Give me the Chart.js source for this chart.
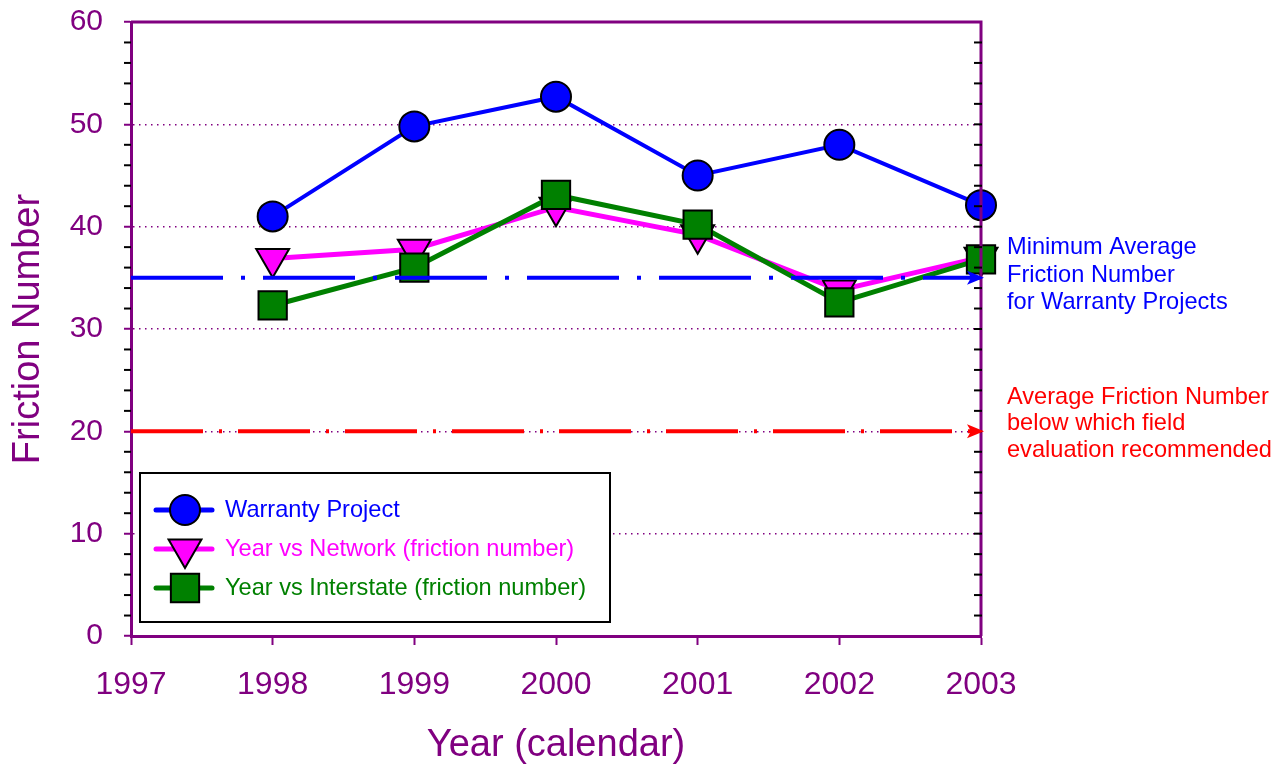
<!DOCTYPE html>
<html>
<head>
<meta charset="utf-8">
<script src="https://cdn.jsdelivr.net/npm/chart.js@4"></script>
<style>
  body { margin: 0; background: #fff; }
  canvas { display: block; }
</style>
</head>
<body>
<canvas id="myChart" width="1282" height="765"></canvas>
<script>
  'use strict'

  // Data
  const years = [1998, 1999, 2000, 2001, 2002, 2003];
  const warranty = [41.0, 49.8, 52.7, 45.0, 48.0, 42.1];
  const network = [36.9, 37.8, 41.9, 39.2, 33.8, 37.0];
  const interstate = [32.3, 36.0, 43.1, 40.2, 32.6, 36.8];
  const refYears = [1997, 2003];
  const minWarranty = [35, 35];
  const fieldEval = [20, 20];
  const xTicks = [1997, 1998, 1999, 2000, 2001, 2002, 2003];

  const purple = '#800080';
  const font = 'Liberation Sans, Arial, sans-serif';
  const noteFont = '23.6px ' + font;

  const pts = (xs, ys) => xs.map((x, i) => ({ x: x, y: ys[i] }));

  // arrows, frame, minor ticks, legend box and side notes
  const extras = {
    id: 'extras',
    afterDatasetsDraw(chart) {
      const c = chart.ctx;
      const a = chart.chartArea;
      const ys = chart.scales.y;

      // frame top and right
      c.save();
      c.strokeStyle = purple;
      c.lineWidth = 3;
      c.beginPath();
      c.moveTo(a.left, a.top);
      c.lineTo(a.right, a.top);
      c.lineTo(a.right, a.bottom);
      c.stroke();

      // minor ticks
      c.strokeStyle = '#000';
      c.lineWidth = 2;
      for (let v = 0; v <= 60; v += 2) {
        const py = ys.getPixelForValue(v);
        if (v % 10 !== 0) {
          c.beginPath();
          c.moveTo(a.left - 7, py);
          c.lineTo(a.left, py);
          c.stroke();
        }
        if (v > 0 && v < 60) {
          c.beginPath();
          c.moveTo(a.right - 7, py);
          c.lineTo(a.right + 1, py);
          c.stroke();
        }
      }

      // arrow heads on reference lines
      chart.data.datasets.forEach((ds, i) => {
        if (!ds.arrow) return;
        const meta = chart.getDatasetMeta(i);
        const p = meta.data[meta.data.length - 1];
        c.fillStyle = ds.borderColor;
        c.beginPath();
        c.moveTo(p.x + 3, p.y);
        c.lineTo(p.x - 14, p.y - 7);
        c.lineTo(p.x - 10, p.y);
        c.lineTo(p.x - 14, p.y + 7);
        c.closePath();
        c.fill();
      });

      // side notes
      c.font = noteFont;
      c.textBaseline = 'middle';
      c.textAlign = 'left';
      const tx = a.right + 26;
      const y35 = ys.getPixelForValue(35);
      c.fillStyle = '#0000ff';
      ['Minimum Average', 'Friction Number', 'for Warranty Projects'].forEach((t, i) => {
        c.fillText(t, tx, y35 - 30 + i * 27.5);
      });
      const y20 = ys.getPixelForValue(20);
      c.fillStyle = '#ff0000';
      ['Average Friction Number', 'below which field', 'evaluation recommended'].forEach((t, i) => {
        c.fillText(t, tx, y20 - 34 + i * 26.5);
      });

      // legend box
      const bx = a.left + 9, bw = 470, bh = 149, by = a.bottom - 14 - bh;
      c.fillStyle = '#fff';
      c.fillRect(bx, by, bw, bh);
      c.strokeStyle = '#000';
      c.lineWidth = 2;
      c.strokeRect(bx, by, bw, bh);
      chart.data.datasets.forEach((ds) => {
        if (ds.arrow) return;
        const ly = by + 37 + ds.legendRow * 39;
        c.strokeStyle = ds.borderColor;
        c.lineWidth = 5;
        c.lineCap = 'round';
        c.beginPath();
        c.moveTo(bx + 16, ly);
        c.lineTo(bx + 72, ly);
        c.stroke();
        c.lineCap = 'butt';
        c.fillStyle = ds.pointBackgroundColor;
        c.strokeStyle = '#000';
        c.lineWidth = 2;
        Chart.helpers.drawPoint(c, {
          pointStyle: ds.pointStyle,
          rotation: ds.pointRotation || 0,
          radius: ds.pointRadius,
          borderWidth: 2
        }, bx + 45, ly);
        c.fillStyle = ds.borderColor;
        c.font = noteFont;
        c.fillText(ds.label, bx + 85, ly);
      });
      c.restore();
    }
  };

  const ctx = document.getElementById('myChart');

  // eslint-disable-next-line no-unused-vars
  const myChart = new Chart(ctx, {
    type: 'line',
    data: {
      datasets: [{
        label: 'Minimum Average Friction Number',
        data: pts(refYears, minWarranty),
        borderColor: '#0000ff',
        borderWidth: 4,
        borderDash: [92, 18, 4, 18],
        pointRadius: 0,
        arrow: true,
        order: 0
      }, {
        label: 'Average Friction Number below which field evaluation recommended',
        data: pts(refYears, fieldEval),
        borderColor: '#ff0000',
        borderWidth: 4,
        borderDash: [72, 16, 3, 16],
        pointRadius: 0,
        arrow: true,
        order: 0
      }, {
        label: 'Warranty Project',
        data: pts(years, warranty),
        borderColor: '#0000ff',
        borderWidth: 4,
        pointStyle: 'circle',
        pointRadius: 15,
        pointBackgroundColor: '#0000ff',
        pointBorderColor: '#000',
        pointBorderWidth: 2,
        legendRow: 0,
        order: 1
      }, {
        label: 'Year vs Network (friction number)',
        data: pts(years, network),
        borderColor: '#ff00ff',
        borderWidth: 5,
        pointStyle: 'triangle',
        pointRotation: 180,
        pointRadius: 19,
        pointBackgroundColor: '#ff00ff',
        pointBorderColor: '#000',
        pointBorderWidth: 2,
        legendRow: 1,
        order: 3
      }, {
        label: 'Year vs Interstate (friction number)',
        data: pts(years, interstate),
        borderColor: '#008000',
        borderWidth: 5,
        pointStyle: 'rect',
        pointRadius: 20,
        pointBackgroundColor: '#008000',
        pointBorderColor: '#000',
        pointBorderWidth: 2,
        legendRow: 2,
        order: 2
      }]
    },
    options: {
      responsive: false,
      animation: false,
      lineTension: 0,
      clip: false,
      layout: {
        padding: { top: 22, right: 301, left: 0, bottom: 0 }
      },
      scales: {
        x: {
          type: 'linear',
          min: 1997,
          max: 2003,
          afterFit: (scale) => { scale.height = 129; },
          afterBuildTicks: (scale) => { scale.ticks = xTicks.map(v => ({ value: v })); },
          ticks: {
            color: purple,
            font: { family: font, size: 32 },
            padding: 21,
            maxRotation: 0,
            callback: (v) => String(v)
          },
          grid: {
            drawOnChartArea: false,
            drawTicks: true,
            tickLength: 9,
            tickColor: purple,
            tickWidth: 2
          },
          border: { color: purple, width: 3 },
          title: {
            display: true,
            text: 'Year (calendar)',
            color: purple,
            font: { family: font, size: 38, lineHeight: 1 },
            padding: { top: 0, bottom: 0 }
          }
        },
        y: {
          min: 0,
          max: 60,
          afterFit: (scale) => {
            scale.width = 131;
            scale.paddingTop = 0;
            scale.paddingBottom = 0;
          },
          ticks: {
            stepSize: 10,
            color: purple,
            font: { family: font, size: 30 },
            padding: 21
          },
          grid: {
            color: (c) => (c.tick.value === 0 || c.tick.value === 60) ? 'rgba(0,0,0,0)' : purple,
            lineWidth: 1.5,
            drawTicks: true,
            tickLength: 7,
            tickColor: purple,
            tickWidth: 2,
            tickBorderDash: []
          },
          border: { color: purple, width: 3, dash: [1.5, 4.5] },
          title: {
            display: true,
            text: 'Friction Number',
            color: purple,
            font: { family: font, size: 38 },
            padding: { top: 6, bottom: 0 }
          }
        }
      },
      plugins: {
        legend: { display: false },
        tooltip: { enabled: false }
      }
    },
    plugins: [extras]
  })
</script>
</body>
</html>
